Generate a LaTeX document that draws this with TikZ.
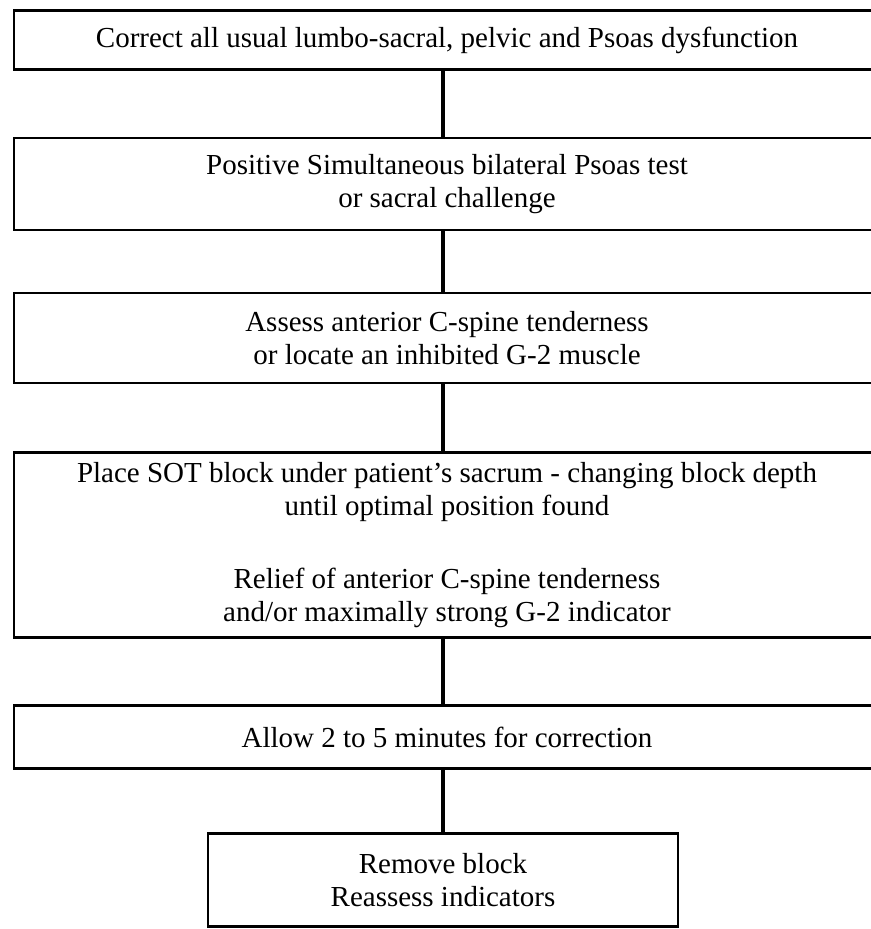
\documentclass[tikz,border=0pt]{standalone}
\usepackage{fontspec}
\setmainfont{Liberation Serif}
\usetikzlibrary{positioning}

\tikzset{
  stepbox/.style={draw, line width=1.5pt, align=center, inner sep=0pt,
    font=\fontsize{16.5}{18.5}\selectfont},
  widebox/.style={stepbox, minimum width=17.32cm},
  link/.style={line width=2pt},
}

\begin{document}
\begin{tikzpicture}
		\useasboundingbox (0,0) rectangle (17.42,-18.58);
		\node[widebox, minimum height=1.18cm] at (8.94,-0.8) (correct)
			{Correct all usual lumbo-sacral, pelvic and Psoas dysfunction};
		\node[widebox, minimum height=1.84cm] at (8.94,-3.68) (psoas)
			{Positive Simultaneous bilateral Psoas test\\ or sacral challenge};
		\node[widebox, minimum height=1.8cm] at (8.94,-6.76) (assess)
			{Assess anterior C-spine tenderness\\ or locate an inhibited G-2 muscle};
		\node[widebox, minimum height=3.7cm] at (8.94,-10.9) (place)
			{Place SOT block under patient's sacrum - changing block depth\\
			 until optimal position found\\[1.4em]
			 Relief of anterior C-spine tenderness\\
			 and/or maximally strong G-2 indicator};
		\node[widebox, minimum height=1.26cm] at (8.94,-14.74) (allow)
			{Allow 2 to 5 minutes for correction};
		\node[stepbox, minimum width=9.4cm, minimum height=1.86cm] at (8.86,-17.6) (remove)
			{Remove block\\ Reassess indicators};
		%
		\draw[link] (correct.south -| remove) -- (psoas.north -| remove);
		\draw[link] (psoas.south -| remove) -- (assess.north -| remove);
		\draw[link] (assess.south -| remove) -- (place.north -| remove);
		\draw[link] (place.south -| remove) -- (allow.north -| remove);
		\draw[link] (allow.south -| remove) -- (remove);
	\end{tikzpicture}
\end{document}
